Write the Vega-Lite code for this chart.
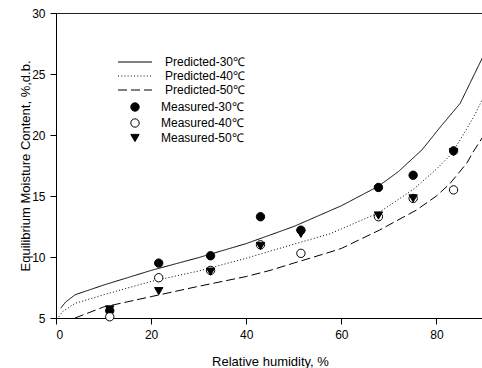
{
  "$schema": "https://vega.github.io/schema/vega-lite/v6.json",
  "autosize": {"type": "none"},
  "padding": {"left": 56, "top": 13, "right": 0, "bottom": 50},
  "width": 428,
  "height": 305,
  "background": "white",
  "config": {
    "font": "Liberation Sans",
    "view": {"stroke": "#222", "strokeWidth": 1},
    "axis": {
      "grid": false,
      "domainColor": "black",
      "tickColor": "black",
      "labelColor": "black",
      "titleColor": "black",
      "labelFont": "Liberation Sans",
      "titleFont": "Liberation Sans",
      "labelFontSize": 12,
      "titleFontSize": 13,
      "titleFontWeight": "normal",
      "tickSize": 6,
      "labelPadding": 5
    },
    "legend": {
      "labelFont": "Liberation Sans",
      "labelFontSize": 12,
      "labelColor": "black",
      "padding": 0
    }
  },
  "data": {
    "values": [
      {"series": "Predicted-30℃", "x": 1, "y": 5.8},
      {"series": "Predicted-30℃", "x": 2, "y": 6.3},
      {"series": "Predicted-30℃", "x": 4, "y": 6.9},
      {"series": "Predicted-30℃", "x": 7, "y": 7.3},
      {"series": "Predicted-30℃", "x": 10, "y": 7.7},
      {"series": "Predicted-30℃", "x": 15, "y": 8.3},
      {"series": "Predicted-30℃", "x": 20, "y": 8.9},
      {"series": "Predicted-30℃", "x": 30, "y": 9.95},
      {"series": "Predicted-30℃", "x": 40, "y": 11.1},
      {"series": "Predicted-30℃", "x": 50, "y": 12.5},
      {"series": "Predicted-30℃", "x": 60, "y": 14.2},
      {"series": "Predicted-30℃", "x": 67.8, "y": 15.8},
      {"series": "Predicted-30℃", "x": 72, "y": 17.0},
      {"series": "Predicted-30℃", "x": 77, "y": 18.8},
      {"series": "Predicted-30℃", "x": 80.7, "y": 20.6},
      {"series": "Predicted-30℃", "x": 85, "y": 22.6},
      {"series": "Predicted-30℃", "x": 88, "y": 25.0},
      {"series": "Predicted-30℃", "x": 90, "y": 26.6},
      {"series": "Predicted-40℃", "x": 0.6, "y": 5.1},
      {"series": "Predicted-40℃", "x": 1.3, "y": 5.5},
      {"series": "Predicted-40℃", "x": 4, "y": 6.2},
      {"series": "Predicted-40℃", "x": 10, "y": 6.9},
      {"series": "Predicted-40℃", "x": 20, "y": 8.0},
      {"series": "Predicted-40℃", "x": 30, "y": 8.85},
      {"series": "Predicted-40℃", "x": 40, "y": 9.9},
      {"series": "Predicted-40℃", "x": 50, "y": 11.05},
      {"series": "Predicted-40℃", "x": 57.6, "y": 11.9},
      {"series": "Predicted-40℃", "x": 60, "y": 12.3},
      {"series": "Predicted-40℃", "x": 67.7, "y": 13.6},
      {"series": "Predicted-40℃", "x": 75, "y": 15.5},
      {"series": "Predicted-40℃", "x": 80, "y": 17.2},
      {"series": "Predicted-40℃", "x": 82.8, "y": 18.3},
      {"series": "Predicted-40℃", "x": 85, "y": 19.6},
      {"series": "Predicted-40℃", "x": 88, "y": 21.6},
      {"series": "Predicted-40℃", "x": 90, "y": 23.2},
      {"series": "Predicted-50℃", "x": 4, "y": 5.0},
      {"series": "Predicted-50℃", "x": 6, "y": 5.3},
      {"series": "Predicted-50℃", "x": 10, "y": 5.9},
      {"series": "Predicted-50℃", "x": 20, "y": 6.75},
      {"series": "Predicted-50℃", "x": 30, "y": 7.6},
      {"series": "Predicted-50℃", "x": 40, "y": 8.4},
      {"series": "Predicted-50℃", "x": 45, "y": 8.9},
      {"series": "Predicted-50℃", "x": 50, "y": 9.5},
      {"series": "Predicted-50℃", "x": 57.6, "y": 10.4},
      {"series": "Predicted-50℃", "x": 60, "y": 10.7},
      {"series": "Predicted-50℃", "x": 68, "y": 12.2},
      {"series": "Predicted-50℃", "x": 75.8, "y": 13.85},
      {"series": "Predicted-50℃", "x": 80, "y": 15.0},
      {"series": "Predicted-50℃", "x": 82.8, "y": 16.0},
      {"series": "Predicted-50℃", "x": 86.4, "y": 17.7},
      {"series": "Predicted-50℃", "x": 87.7, "y": 18.6},
      {"series": "Predicted-50℃", "x": 90, "y": 20.0},
      {"series": "Measured-30℃", "x": 11.3, "y": 5.6},
      {"series": "Measured-30℃", "x": 21.6, "y": 9.5},
      {"series": "Measured-30℃", "x": 32.5, "y": 10.1},
      {"series": "Measured-30℃", "x": 43.0, "y": 13.3},
      {"series": "Measured-30℃", "x": 51.5, "y": 12.2},
      {"series": "Measured-30℃", "x": 67.8, "y": 15.7},
      {"series": "Measured-30℃", "x": 75.1, "y": 16.7},
      {"series": "Measured-30℃", "x": 83.6, "y": 18.7},
      {"series": "Measured-40℃", "x": 11.3, "y": 5.1},
      {"series": "Measured-40℃", "x": 21.6, "y": 8.3},
      {"series": "Measured-40℃", "x": 32.5, "y": 8.9},
      {"series": "Measured-40℃", "x": 43.0, "y": 11.0},
      {"series": "Measured-40℃", "x": 51.5, "y": 10.3},
      {"series": "Measured-40℃", "x": 67.8, "y": 13.3},
      {"series": "Measured-40℃", "x": 75.1, "y": 14.8},
      {"series": "Measured-40℃", "x": 83.6, "y": 15.5},
      {"series": "Measured-50℃", "x": 11.3, "y": 5.7},
      {"series": "Measured-50℃", "x": 21.6, "y": 7.2},
      {"series": "Measured-50℃", "x": 32.5, "y": 8.8},
      {"series": "Measured-50℃", "x": 43.0, "y": 10.9},
      {"series": "Measured-50℃", "x": 51.5, "y": 11.9},
      {"series": "Measured-50℃", "x": 67.8, "y": 13.4},
      {"series": "Measured-50℃", "x": 75.1, "y": 14.8},
      {"series": "Measured-50℃", "x": 83.6, "y": 18.6}
    ]
  },
  "encoding": {
    "x": {
      "field": "x", "type": "quantitative",
      "scale": {"domain": [0, 90], "nice": false, "zero": false},
      "axis": {"values": [0, 20, 40, 60, 80], "title": "Relative humidity, %", "titlePadding": 15}
    },
    "y": {
      "field": "y", "type": "quantitative",
      "scale": {"domain": [5, 30], "nice": false, "zero": false},
      "axis": {"values": [5, 10, 15, 20, 25, 30], "title": "Equilibrium Moisture Content, %,d.b.", "titlePadding": -1}
    }
  },
  "layer": [
    {
      "transform": [{"filter": "indexof(datum.series, 'Predicted') == 0"}],
      "mark": {"type": "line", "color": "black", "strokeWidth": 1, "clip": true},
      "encoding": {
        "strokeDash": {
          "field": "series", "type": "nominal",
          "scale": {"domain": ["Predicted-30℃", "Predicted-40℃", "Predicted-50℃"], "range": [[1, 0], [1, 2.2], [9, 4]]},
          "legend": {"title": null, "orient": "none", "legendX": 73, "legendY": 43, "symbolType": "M-4,0H4", "symbolSize": 72, "symbolFillColor": "transparent", "symbolStrokeColor": "black", "symbolStrokeWidth": 1, "labelOffset": 24, "rowPadding": 2}
        }
      }
    },
    {
      "transform": [{"filter": "indexof(datum.series, 'Measured') == 0"}],
      "mark": {"type": "point", "filled": true, "stroke": "black", "strokeWidth": 1, "size": 70, "opacity": 1},
      "encoding": {
        "shape": {
          "field": "series", "type": "nominal",
          "scale": {"domain": ["Measured-30℃", "Measured-40℃", "Measured-50℃"], "range": ["circle", "circle", "triangle-down"]},
          "legend": {"title": null, "orient": "none", "legendX": 73, "legendY": 88, "symbolSize": 70, "symbolStrokeWidth": 1, "labelOffset": 20, "rowPadding": 2,
            "encode": {"symbols": {"update": {"fill": {"signal": "indexof(datum.value, '40') >= 0 ? 'white' : 'black'"}, "stroke": {"value": "black"}, "strokeWidth": {"value": 1}}}}}
        },
        "fill": {
          "field": "series", "type": "nominal",
          "scale": {"domain": ["Measured-30℃", "Measured-40℃", "Measured-50℃"], "range": ["black", "white", "black"]},
          "legend": null
        }
      }
    }
  ]
}
